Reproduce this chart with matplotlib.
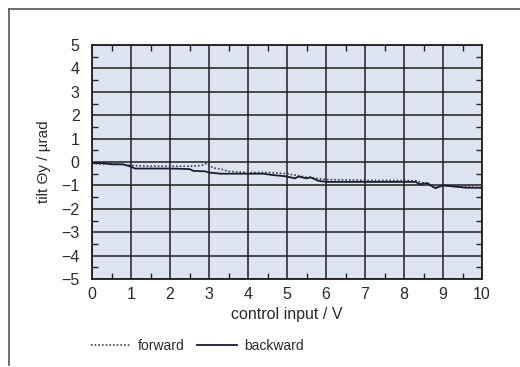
import matplotlib
matplotlib.use("Agg")
import matplotlib.pyplot as plt
from matplotlib.lines import Line2D
from matplotlib.ticker import MultipleLocator

plt.rcParams['font.family'] = ['Liberation Sans', 'DejaVu Sans']

# values
fwd_x = [0, 0.3, 0.5, 1.0, 1.5, 2.0, 2.5, 2.8, 2.95, 3.1, 3.3, 3.5, 4.0, 4.5,
         5.0, 5.5, 6.0, 7.0, 8.3, 8.5, 8.8, 9.0, 9.5, 10.0]
fwd_y = [-0.05, -0.1, -0.05, -0.15, -0.18, -0.18, -0.18, -0.15, -0.05, -0.25, -0.3,
         -0.4, -0.45, -0.45, -0.5, -0.65, -0.75, -0.78, -0.8, -0.9, -1.1, -1.0,
         -1.05, -1.1]

bwd_x = [0, 0.3, 0.5, 0.8, 1.0, 1.1, 2.0, 2.5, 2.6, 2.9, 3.0, 3.3, 4.0, 4.4, 4.6,
         4.9, 5.0, 5.2, 5.3, 5.5, 5.6, 5.8, 6.0, 7.0, 8.3, 8.4, 8.6, 8.8, 9.0, 9.3,
         9.6, 10.0]
bwd_y = [-0.05, -0.05, -0.1, -0.1, -0.2, -0.28, -0.28, -0.3, -0.38, -0.4, -0.45,
         -0.5, -0.5, -0.5, -0.55, -0.6, -0.62, -0.7, -0.62, -0.7, -0.65, -0.8,
         -0.85, -0.85, -0.85, -0.95, -0.9, -1.12, -1.0, -1.05, -1.1, -1.1]

fig = plt.figure(figsize=(5.2, 3.67), dpi=100)
ax = fig.add_axes([92 / 520, 1 - 279 / 367, 390 / 520, 234 / 367])
ax.set_facecolor('#dde3f0')

line_col = '#1a1d2e'
ax.plot(fwd_x, fwd_y, color='#3a3f5c', lw=1.2, ls=(0, (1, 1.2)), zorder=3)
ax.plot(bwd_x, bwd_y, color=line_col, lw=1.3, zorder=4)

ax.set_xlim(0, 10)
ax.set_ylim(-5, 5)
ax.xaxis.set_major_locator(MultipleLocator(1))
ax.yaxis.set_major_locator(MultipleLocator(1))
ax.xaxis.set_minor_locator(MultipleLocator(0.5))
ax.yaxis.set_minor_locator(MultipleLocator(0.5))
ax.grid(True, which='major', color='#1e1e1e', lw=1.1)
ax.tick_params(which='major', length=0, labelsize=11.5, colors='#2a2a2a')
ax.tick_params(axis='x', which='major', pad=6)
ax.tick_params(axis='y', which='major', pad=9)
ax.tick_params(which='minor', direction='in', length=4, width=1, color='#222',
               top=True, right=True)
for s in ax.spines.values():
    s.set_color('#1e1e1e')
    s.set_linewidth(1.3)

ax.set_yticks(range(-5, 6))
ax.set_yticklabels([str(v).replace('-', '\u2212') for v in range(-5, 6)])
ax.set_xlabel('control input / V', fontsize=11.5, color='#2a2a2a', labelpad=3)
ax.set_ylabel('tilt \u0398y / \u00b5rad', fontsize=11, color='#2a2a2a', labelpad=7)

handles = [Line2D([], [], color='#3a3f5c', lw=1.2, ls=(0, (1, 1.2))),
           Line2D([], [], color=line_col, lw=1.3)]
fig.legend(handles, ['forward', 'backward'], loc='center left',
           bbox_to_anchor=(78 / 520, 1 - 346 / 367), ncol=2, frameon=False,
           fontsize=10, handlelength=2.9, handletextpad=0.5, columnspacing=0.9,
           labelcolor='#2a2a2a')

# outer frame (top and left edges visible in the reference)
fig.add_artist(Line2D([9 / 520, 1], [1 - 9 / 367, 1 - 9 / 367],
                      transform=fig.transFigure, color='#555', lw=1.2))
fig.add_artist(Line2D([9 / 520, 9 / 520], [1 - 9 / 367, 1 - 365 / 367],
                      transform=fig.transFigure, color='#555', lw=1.2))

fig.savefig('out.png', dpi=100)
